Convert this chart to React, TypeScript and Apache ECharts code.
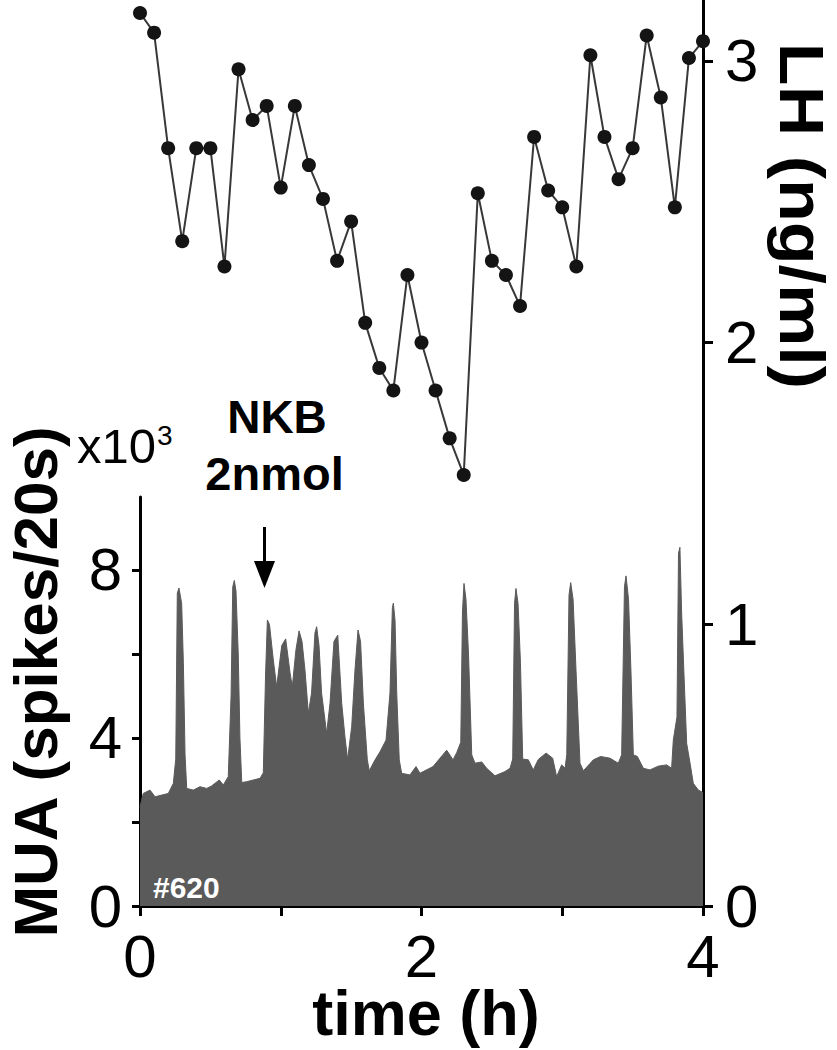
import React, { useEffect, useRef } from "react";
import * as echarts from "echarts";

const FONT = '"Liberation Sans", Arial, sans-serif';

// LH sampling times (h) and LH concentration (ng/ml)
const lhTime = [
  0.0, 0.1, 0.2, 0.3, 0.4, 0.5, 0.6, 0.7, 0.8, 0.9,
  1.0, 1.1, 1.2, 1.3, 1.4, 1.5, 1.6, 1.7, 1.8, 1.9,
  2.0, 2.1, 2.2, 2.3, 2.4, 2.5, 2.6, 2.7, 2.8, 2.9,
  3.0, 3.1, 3.2, 3.3, 3.4, 3.5, 3.6, 3.7, 3.8, 3.9, 4.0,
];
const lhValue = [
  3.17, 3.1, 2.69, 2.36, 2.69, 2.69, 2.27, 2.97, 2.79, 2.84,
  2.55, 2.84, 2.63, 2.51, 2.29, 2.43, 2.07, 1.91, 1.83, 2.24,
  2.0, 1.83, 1.66, 1.53, 2.53, 2.29, 2.24, 2.13, 2.73, 2.54,
  2.48, 2.27, 3.02, 2.73, 2.58, 2.69, 3.09, 2.87, 2.48, 3.01, 3.07,
];

// MUA trace: time (h) and rate (x10^3 spikes/20s)
const muaTime = [
  0.0, 0.023, 0.071, 0.107, 0.154, 0.201, 0.237, 0.254, 0.265, 0.277, 0.296, 0.308, 0.32, 0.332,
  0.379, 0.426, 0.474, 0.509, 0.563, 0.592, 0.627, 0.647, 0.659, 0.67, 0.682, 0.698, 0.71, 0.723,
  0.758, 0.805, 0.853, 0.876, 0.892, 0.905, 0.92, 0.947, 0.971, 1.007, 1.035, 1.066, 1.082, 1.108,
  1.13, 1.151, 1.172, 1.196, 1.219, 1.243, 1.255, 1.272, 1.29, 1.326, 1.35, 1.378, 1.405, 1.433,
  1.457, 1.475, 1.504, 1.527, 1.549, 1.567, 1.587, 1.615, 1.629, 1.67, 1.705, 1.748, 1.776, 1.793,
  1.8, 1.812, 1.824, 1.842, 1.859, 1.918, 1.961, 1.989, 2.082, 2.179, 2.224, 2.25, 2.279, 2.291,
  2.302, 2.316, 2.334, 2.357, 2.38, 2.428, 2.463, 2.522, 2.593, 2.629, 2.648, 2.661, 2.671, 2.686,
  2.703, 2.719, 2.759, 2.794, 2.83, 2.885, 2.932, 2.96, 2.996, 3.02, 3.032, 3.048, 3.06, 3.077,
  3.098, 3.126, 3.15, 3.221, 3.273, 3.339, 3.398, 3.422, 3.442, 3.453, 3.471, 3.489, 3.505, 3.534,
  3.576, 3.623, 3.682, 3.742, 3.777, 3.789, 3.815, 3.826, 3.836, 3.848, 3.865, 3.884, 3.908, 3.931,
  3.967, 4.0,
];
const muaRate = [
  2.36, 2.68, 2.76, 2.6, 2.64, 2.68, 2.92, 3.5, 7.45, 7.57, 7.2, 5.8, 3.6, 2.8,
  2.76, 2.84, 2.8, 2.86, 3.0, 2.88, 3.08, 5.0, 7.6, 7.75, 7.5, 6.0, 4.0, 2.94,
  2.96, 3.0, 3.04, 3.17, 5.5, 6.81, 6.7, 5.86, 5.22, 6.2, 6.36, 5.55, 5.22, 6.1,
  6.55, 6.3, 5.62, 4.59, 5.07, 6.5, 6.65, 6.2, 5.07, 4.11, 4.83, 6.3, 6.45, 4.83,
  4.0, 3.49, 4.27, 5.6, 6.57, 6.3, 4.83, 3.48, 3.22, 3.48, 3.67, 3.95, 5.07, 7.1,
  7.21, 6.8, 5.07, 3.48, 3.16, 3.12, 3.32, 3.16, 3.32, 3.71, 3.48, 3.65, 3.9, 7.0,
  7.68, 7.3, 6.0, 3.6, 3.4, 3.43, 3.28, 3.1, 3.2, 3.28, 3.5, 7.2, 7.56, 7.2,
  5.8, 3.5, 3.48, 3.24, 3.49, 3.64, 3.52, 3.08, 3.36, 3.28, 3.6, 7.4, 7.7, 7.3,
  5.6, 3.4, 3.22, 3.48, 3.56, 3.52, 3.4, 3.6, 7.6, 7.86, 7.3, 5.5, 3.6, 3.56,
  3.28, 3.24, 3.33, 3.36, 3.28, 3.95, 4.5, 8.4, 8.54, 7.0, 5.5, 3.87, 3.4, 2.92,
  2.76, 2.7,
];

const xTicks = [0, 1, 2, 3, 4];
const xLabels = [0, 2, 4];
const muaTicks = [0, 2, 4, 6, 8];
const muaLabels = [0, 4, 8];
const lhTicks = [0, 1, 2, 3];

export default function App() {
  const ref = useRef<HTMLDivElement>(null);

  useEffect(() => {
    document.body.style.margin = "0";
    if (!ref.current) return;
    const chart = echarts.init(ref.current, undefined, { renderer: "svg" });
    const axisLineStyle = { color: "#000", width: 3 };
    const labelStyle = { fontSize: 60, color: "#000", fontFamily: FONT };

    const option: any = {
      animation: false,
      backgroundColor: "#ffffff",
      textStyle: { fontFamily: FONT },
      grid: [
        { left: 140, right: 134, top: 0, bottom: 144 },
        { left: 140, right: 134, top: 497, bottom: 144 },
      ],
      xAxis: [
        { type: "value", gridIndex: 0, min: 0, max: 4, show: false },
        {
          type: "value",
          gridIndex: 1,
          min: 0,
          max: 4,
          interval: 1,
          axisLine: { show: true, onZero: false, lineStyle: axisLineStyle },
          axisTick: { show: true, customValues: xTicks, length: 10, lineStyle: axisLineStyle },
          axisLabel: { ...labelStyle, customValues: xLabels, margin: 20 },
          splitLine: { show: false },
        },
      ],
      yAxis: [
        {
          type: "value",
          gridIndex: 0,
          position: "right",
          min: 0,
          max: 3.216,
          axisLine: { show: true, onZero: false, lineStyle: axisLineStyle },
          axisTick: { show: true, customValues: lhTicks, length: 10, lineStyle: axisLineStyle },
          axisLabel: { ...labelStyle, customValues: lhTicks, margin: 22 },
          splitLine: { show: false },
        },
        {
          type: "value",
          gridIndex: 1,
          position: "left",
          min: 0,
          max: 9.738,
          axisLine: { show: true, onZero: false, lineStyle: axisLineStyle },
          axisTick: { show: true, customValues: muaTicks, length: 8, lineStyle: axisLineStyle },
          axisLabel: { ...labelStyle, customValues: muaLabels, margin: 18 },
          splitLine: { show: false },
        },
      ],
      series: [
        {
          name: "MUA",
          type: "line",
          xAxisIndex: 1,
          yAxisIndex: 1,
          data: muaTime.map((t, i) => [t, muaRate[i]]),
          symbol: "none",
          lineStyle: { color: "#5a5a5a", width: 1 },
          areaStyle: { color: "#5a5a5a", opacity: 1 },
          z: 1,
        },
        {
          name: "LH",
          type: "line",
          xAxisIndex: 0,
          yAxisIndex: 0,
          data: lhTime.map((t, i) => [t, lhValue[i]]),
          symbol: "circle",
          symbolSize: 14,
          itemStyle: { color: "#141414" },
          lineStyle: { color: "#383838", width: 2 },
          z: 3,
        },
      ],
      graphic: [
        {
          type: "text",
          x: 35,
          y: 682,
          rotation: Math.PI / 2,
          style: {
            text: "MUA (spikes/20s)",
            fontSize: 62,
            fontWeight: "bold",
            fontFamily: FONT,
            fill: "#000",
            align: "center",
            verticalAlign: "middle",
          },
        },
        {
          type: "text",
          x: 802,
          y: 216,
          rotation: -Math.PI / 2,
          scaleX: 1.13,
          style: {
            text: "LH (ng/ml)",
            fontSize: 62,
            fontWeight: "bold",
            fontFamily: FONT,
            fill: "#000",
            align: "center",
            verticalAlign: "middle",
          },
        },
        {
          type: "text",
          x: 426,
          y: 1013,
          style: {
            text: "time (h)",
            fontSize: 63,
            fontWeight: "bold",
            fontFamily: FONT,
            fill: "#000",
            align: "center",
            verticalAlign: "middle",
          },
        },
        {
          type: "text",
          x: 77,
          y: 446,
          style: {
            text: "x10",
            fontSize: 49,
            fontFamily: FONT,
            fill: "#000",
            align: "left",
            verticalAlign: "middle",
          },
        },
        {
          type: "text",
          x: 157,
          y: 435,
          style: {
            text: "3",
            fontSize: 28,
            fontFamily: FONT,
            fill: "#000",
            align: "left",
            verticalAlign: "middle",
          },
        },
        {
          type: "text",
          x: 277,
          y: 417,
          style: {
            text: "NKB",
            fontSize: 46,
            fontWeight: "bold",
            fontFamily: FONT,
            fill: "#000",
            align: "center",
            verticalAlign: "middle",
          },
        },
        {
          type: "text",
          x: 274.5,
          y: 473.7,
          style: {
            text: "2nmol",
            fontSize: 47,
            fontWeight: "bold",
            fontFamily: FONT,
            fill: "#000",
            align: "center",
            verticalAlign: "middle",
          },
        },
        {
          type: "line",
          shape: { x1: 264.5, y1: 527, x2: 264.5, y2: 566 },
          style: { stroke: "#000", lineWidth: 3 },
        },
        {
          type: "polygon",
          shape: { points: [[254, 561], [275, 561], [264.5, 588]] },
          style: { fill: "#000" },
        },
        {
          type: "text",
          x: 153,
          y: 887.6,
          z: 10,
          style: {
            text: "#620",
            fontSize: 30,
            fontWeight: "bold",
            fontFamily: FONT,
            fill: "#ffffff",
            align: "left",
            verticalAlign: "middle",
          },
        },
      ],
    };

    chart.setOption(option);
    return () => chart.dispose();
  }, []);

  return (
    <div
      ref={ref}
      style={{ position: "absolute", left: 0, top: 0, width: 837, height: 1050, background: "#fff" }}
    />
  );
}
